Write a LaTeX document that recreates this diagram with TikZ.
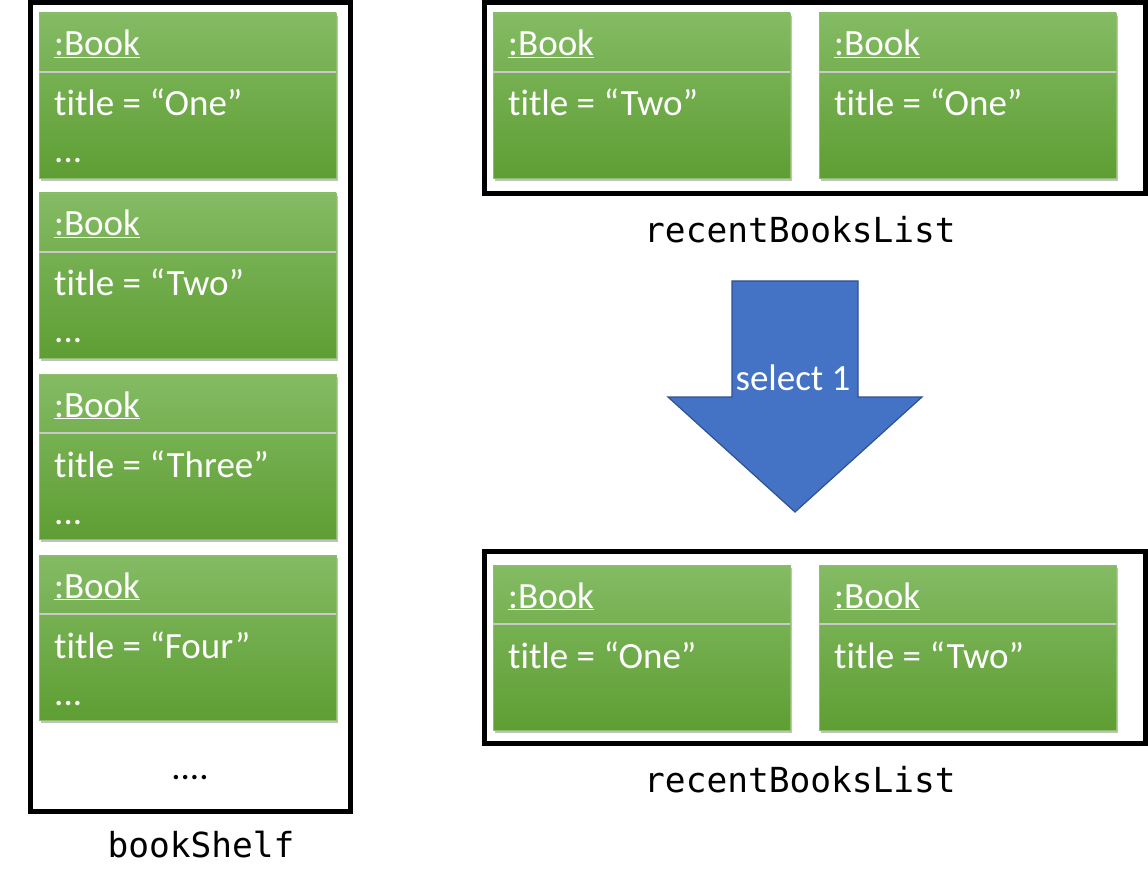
\documentclass[tikz,border=0pt]{standalone}
\usepackage{fontspec}
\setmainfont{Carlito}[Ligatures={NoCommon}]
\newfontfamily\monofont{DejaVu Sans Mono}
\usetikzlibrary{shadows}
\definecolor{gtop}{HTML}{84BB64}
\definecolor{gbot}{HTML}{5E9E33}
\definecolor{gedge}{HTML}{8CBF6C}
\definecolor{sepgray}{HTML}{C9C9C9}
\definecolor{arrowfill}{HTML}{4472C4}
\definecolor{arrowedge}{HTML}{2F528F}
\tikzset{
  bookbox/.style={rectangle, anchor=north west, inner sep=0pt, outer sep=0pt,
    minimum width=297pt, minimum height=165pt,
    top color=gtop, bottom color=gbot, draw=gedge, line width=0.8pt,
    drop shadow={shadow xshift=2pt, shadow yshift=-3pt, opacity=0.35, fill=black!70}},
  sepline/.style={draw=sepgray, line width=1.6pt},
  booktext/.style={anchor=base west, inner sep=0pt, text=white, font=\fontsize{37}{42}\selectfont},
  container/.style={draw=black, line width=5pt, fill=none, inner sep=0pt, outer sep=0pt, anchor=north west},
  monolabel/.style={font=\monofont\fontsize{34.5}{40}\selectfont, anchor=base, inner sep=0pt},
}
% \bookat{name}{x}{y}{title}{dots}
\newcommand{\bookat}[5]{%
  \node[bookbox] (#1) at (#2,#3) {};
  \draw[sepline] ([yshift=-59pt]#1.north west) -- ([yshift=-59pt]#1.north east);
  \node[booktext] (#1h) at ([xshift=15pt,yshift=-43pt]#1.north west) {\underline{:Book}};
  \node[booktext] (#1t) at ([xshift=15pt,yshift=-103pt]#1.north west) {title = “#4”};
  \ifx&#5&\else
  \node[booktext] (#1d) at ([xshift=15pt,yshift=-150pt]#1.north west) {#5};
  \fi
}
\begin{document}
\begin{tikzpicture}[x=1pt,y=-1pt]
\useasboundingbox (0,0) rectangle (1148,890);
% bookShelf
\node[container, minimum width=320pt, minimum height=809pt] (shelf) at (30.5,2.5) {};
\bookat{s1}{39}{13}{One}{...}
\bookat{s2}{39}{193}{Two}{...}
\bookat{s3}{39}{374}{Three}{...}
\bookat{s4}{39}{555}{Four}{...}
\node[anchor=base, inner sep=0pt, font=\fontsize{37}{42}\selectfont] (more) at (190,779) {....};
\node[monolabel] (shelflbl) at (201,857) {bookShelf};
% top recent list
\node[container, minimum width=661pt, minimum height=191pt] (top) at (484,2.5) {};
\bookat{t1}{493}{13}{Two}{}
\bookat{t2}{819}{13}{One}{}
\node[monolabel] (toplbl) at (800,243) {recentBooksList};
% arrow
\draw[fill=arrowfill, draw=arrowedge, line width=1.2pt]
  (732,281) -- (858,281) -- (858,397) -- (922,397) -- (795,512) -- (668,397) -- (732,397) -- cycle;
\node[anchor=base, inner sep=0pt, text=white, font=\fontsize{37}{42}\selectfont] (sel) at (793,390) {select 1};
% bottom recent list
\node[container, minimum width=661pt, minimum height=192pt] (bot) at (484,551) {};
\bookat{b1}{493}{565}{One}{}
\bookat{b2}{819}{565}{Two}{}
\node[monolabel] (botlbl) at (800,792) {recentBooksList};
\end{tikzpicture}
\end{document}
